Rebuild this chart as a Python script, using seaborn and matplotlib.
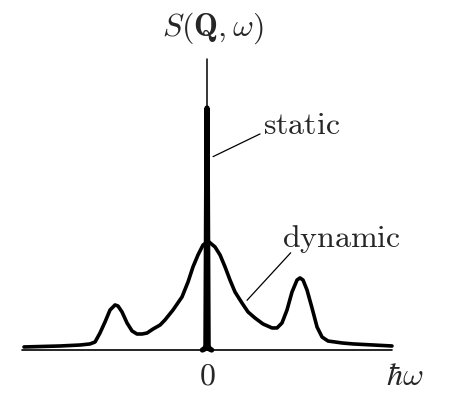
import numpy as np
import pandas as pd
import matplotlib
matplotlib.use('Agg')
import matplotlib.pyplot as plt
import seaborn as sns

# dynamic part of S(Q, w) (w in units of the side peak position)
omega = [-1.968, -1.581, -1.366, -1.258, -1.204, -1.151, -1.097, -1.043, -0.989, -0.957,
         -0.914, -0.860, -0.806, -0.753, -0.699, -0.645, -0.581, -0.505, -0.452, -0.366,
         -0.269, -0.204, -0.151, -0.097, -0.043, -0.011, 0.022, 0.086, 0.140, 0.194,
         0.247, 0.301, 0.376, 0.441, 0.516, 0.602, 0.699, 0.753, 0.806, 0.860,
         0.914, 0.968, 1.0, 1.032, 1.075, 1.129, 1.183, 1.237, 1.301, 1.452,
         1.570, 1.989]
s_dyn = [0.028, 0.037, 0.046, 0.056, 0.074, 0.157, 0.259, 0.370, 0.417, 0.407,
         0.352, 0.250, 0.176, 0.148, 0.148, 0.157, 0.194, 0.231, 0.278, 0.370,
         0.491, 0.630, 0.769, 0.880, 0.972, 0.991, 1.0, 0.954, 0.880, 0.769,
         0.648, 0.537, 0.435, 0.352, 0.296, 0.241, 0.204, 0.204, 0.250, 0.370,
         0.537, 0.648, 0.667, 0.648, 0.556, 0.389, 0.213, 0.120, 0.083, 0.065,
         0.056, 0.037]

# static (elastic) line
omega_st = [-0.05, -0.025, -0.012, 0.0, 0.012, 0.025, 0.05]
s_st = [0.0, 0.01, 0.04, 2.24, 0.04, 0.01, 0.0]

df = pd.DataFrame({'w': omega, 'S': s_dyn})
df_st = pd.DataFrame({'w': omega_st, 'S': s_st})

sns.set_style('white')
plt.rcParams['mathtext.fontset'] = 'cm'

fig = plt.figure(figsize=(4.49, 3.96), dpi=100)
ax = fig.add_axes([0, 0, 1, 1])

# axes drawn by hand
ax.plot([-1.99, 1.99], [0, 0], color='black', lw=1.2)
ax.plot([0, 0], [0, 2.69], color='black', lw=1.1)

sns.lineplot(data=df, x='w', y='S', sort=False, estimator=None, ax=ax,
             color='black', lw=2.6, solid_joinstyle='round')
sns.lineplot(data=df_st, x='w', y='S', sort=False, estimator=None, ax=ax,
             color='black', lw=3.8)

ax.set_xlim(-2.226, 2.602)
ax.set_ylim(-0.426, 3.24)
ax.axis('off')

fs = 23
ax.text(0.06, 2.98, r'$S(\mathbf{Q},\omega)$', fontsize=fs, ha='center', va='center')
ax.text(0.0, -0.245, r'$0$', fontsize=fs, ha='center', va='center')
ax.text(2.13, -0.245, r'$\hbar\omega$', fontsize=fs, ha='center', va='center')
ax.text(0.60, 2.08, r'$\mathrm{static}$', fontsize=fs, ha='left', va='center')
ax.text(0.81, 1.03, r'$\mathrm{dynamic}$', fontsize=fs, ha='left', va='center')

# pointer lines
ax.plot([0.065, 0.57], [1.79, 2.00], color='black', lw=0.9)
ax.plot([0.43, 0.90], [0.46, 0.90], color='black', lw=0.9)

fig.savefig('out.png', dpi=100)
